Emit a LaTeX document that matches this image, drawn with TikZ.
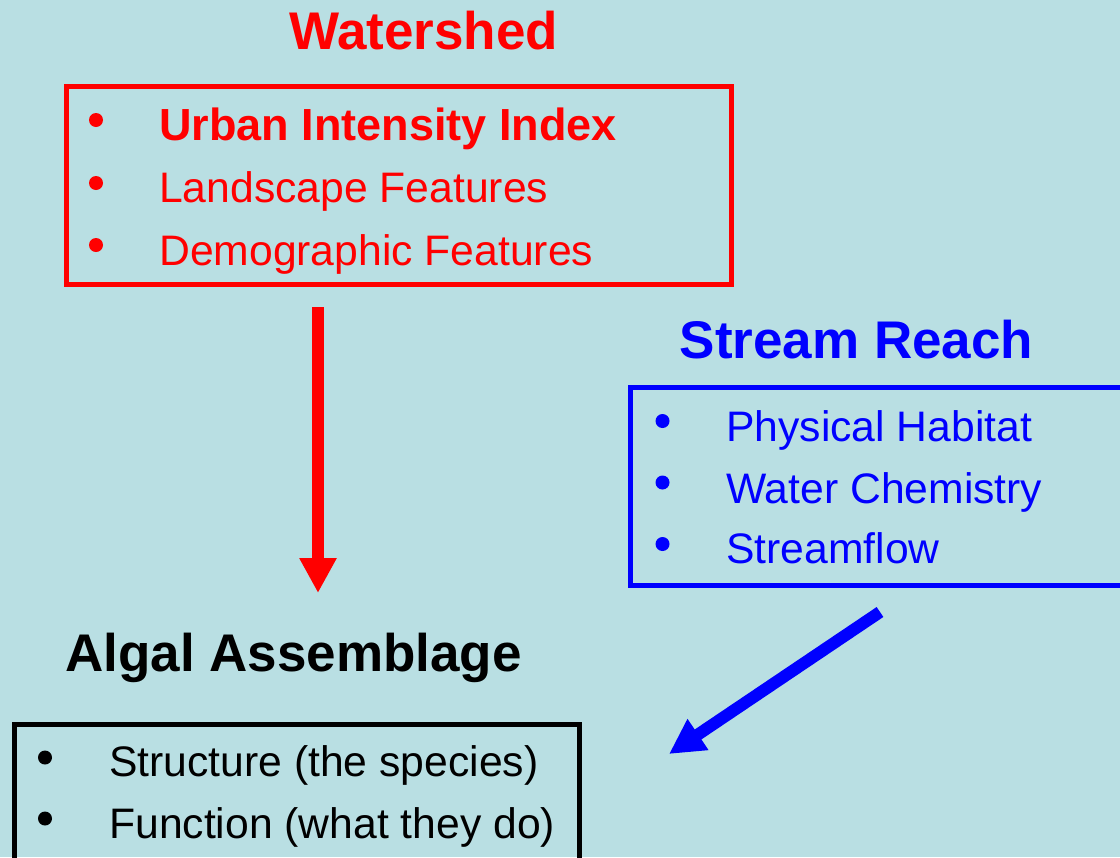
\documentclass[tikz,border=0pt]{standalone}
\usepackage{fontspec}
\setmainfont{Liberation Sans}
\usetikzlibrary{arrows.meta,positioning}
\definecolor{fond}{RGB}{185,223,227}
\definecolor{rouge}{RGB}{255,0,0}
\definecolor{bleu}{RGB}{0,0,255}

\begin{document}
\begin{tikzpicture}[x=0.75pt, y=-0.75pt]

    % Styles des noeuds
    \tikzstyle{titre} = [inner sep=0pt, anchor=base, font=\fontsize{39.75}{48}\selectfont\bfseries]
    \tikzstyle{cadre} = [rectangle, line width=3.75pt, anchor=north west, inner sep=0pt, outer sep=0pt, minimum height=148.5pt]
    \tikzstyle{puce} = [circle, inner sep=0pt, outer sep=0pt, minimum size=10.5pt]
    \tikzstyle{item} = [inner sep=0pt, anchor=base west, font=\fontsize{32}{38}\selectfont]
    \tikzstyle{fleche} = [line width=9pt, -{Triangle[length=26.25pt, width=26.25pt]}]

    % Fond
    \clip (0,0) rectangle (1120,857);
    \fill [fond] (0,0) rectangle (1120,857);

    % Watershed
    \node (ws) [titre, text=rouge] at (423.5,49) {Watershed};
    \node (wsbox) [cadre, draw=rouge, minimum width=498.75pt] at (66.5,86.5) {};
    \node (ws1) [item, text=rouge, font=\fontsize{33.75}{40}\selectfont\bfseries] at (159,140.7) {Urban Intensity Index};
    \node (ws2) [item, text=rouge] at (159,202.7) {Landscape Features};
    \node (ws3) [item, text=rouge] at (159,265) {Demographic Features};
    \node [puce, fill=rouge] at (96,120) {};
    \node [puce, fill=rouge] at (96,183) {};
    \node [puce, fill=rouge] at (96,245) {};

    % Stream Reach
    \node (sr) [titre, text=bleu] at (856.5,358) {Stream Reach};
    \node (srbox) [cadre, draw=bleu, minimum width=427.5pt] at (630.5,387) {};
    \node (sr1) [item, text=bleu] at (726,441) {Physical Habitat};
    \node (sr2) [item, text=bleu] at (726,503) {Water Chemistry};
    \node (sr3) [item, text=bleu] at (726,563.5) {Streamflow};
    \node [puce, fill=bleu] at (662.5,421) {};
    \node [puce, fill=bleu] at (662.5,482.5) {};
    \node [puce, fill=bleu] at (662.5,544) {};

    % Algal Assemblage
    \node (aa) [titre, text=black] at (293.5,671.7) {Algal Assemblage};
    \node (aabox) [cadre, draw=black, minimum width=423.75pt] at (14,724) {};
    \node (aa1) [item, text=black] at (109,776.7) {Structure (the species)};
    \node (aa2) [item, text=black] at (109,838.3) {Function (what they do)};
    \node [puce, fill=black] at (45,757.5) {};
    \node [puce, fill=black] at (45,818.5) {};

    % Flèches
    \coordinate (wsdep) at (318,307);
    \coordinate (wsfin) at (318,593);
    \coordinate (srdep) at (880,612);
    \coordinate (srfin) at (669,754);
    \draw [fleche, rouge] (wsdep) -- (wsfin);
    \draw [fleche, bleu] (srdep) -- (srfin);

\end{tikzpicture}
\end{document}
